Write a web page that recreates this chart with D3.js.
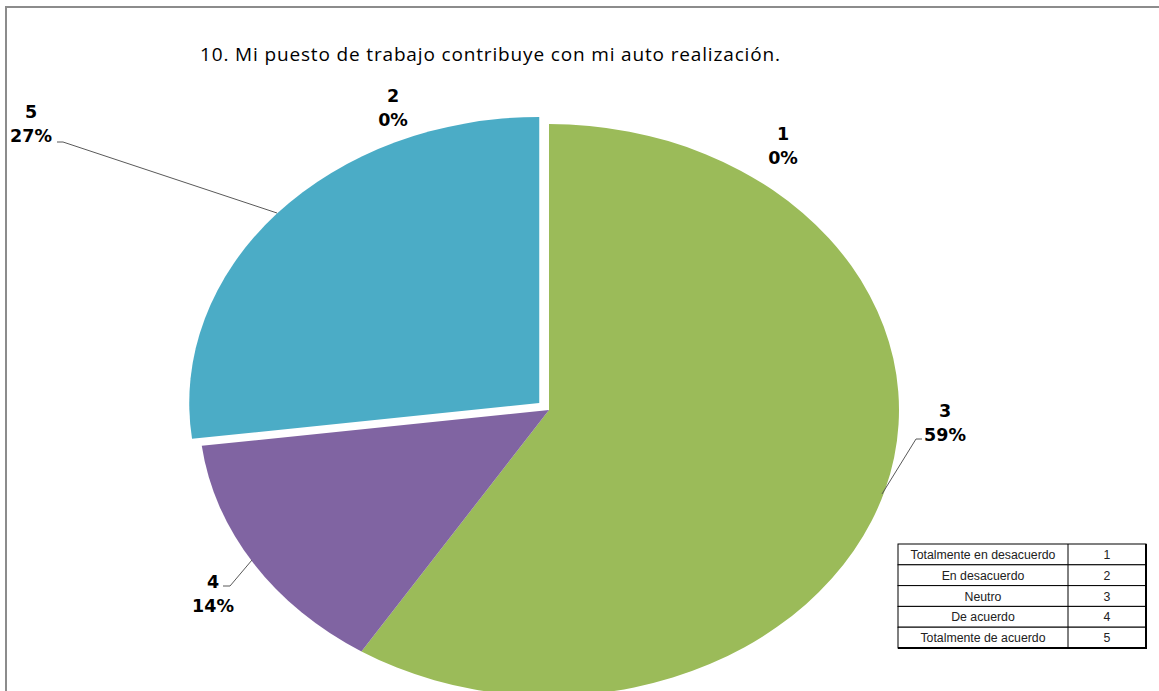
<!DOCTYPE html>
<html>
<head>
<meta charset="utf-8">
<script src="https://cdn.jsdelivr.net/npm/d3@7"></script>
<style>
  body { margin: 0; background: #fff; }
  svg { display: block; }
</style>
</head>
<body>
<div id="chart"></div>
<script>
// pie data
const categories = ['1', '2', '3', '4', '5'];
const values = [0, 0, 59, 14, 27];
const sliceColors = ['#4f81bd', '#c0504d', '#9bbb59', '#8064a2', '#4bacc6'];

// legend table
const tableLabels = ['Totalmente en desacuerdo', 'En desacuerdo', 'Neutro', 'De acuerdo', 'Totalmente de acuerdo'];
const tableCodes = ['1', '2', '3', '4', '5'];

// label positions (label anchor x, y of first line) and leader lines
const labelPos = [[783, 140], [393, 102], [945, 417], [213, 588], [31, 118]];
const leaderLines = [null, null,
  [[922, 439], [916, 439], [882, 494]],
  [[223, 586], [230, 586], [252, 560]],
  [[57, 142], [63, 142], [277, 213]]];

const width = 1159, height = 691;
const cx = 549, cy = 410, rx = 350, ry = 286;

const svg = d3.select('#chart').append('svg')
    .attr('width', width)
    .attr('height', height);

// outer frame
svg.append('path')
    .attr('d', `M6,${height} V7 H${width}`)
    .attr('fill', 'none')
    .attr('stroke', '#8c8c8c')
    .attr('stroke-width', 2);

// title
svg.append('text')
    .attr('x', 490)
    .attr('y', 61)
    .attr('text-anchor', 'middle')
    .attr('font-family', 'Open Sans, sans-serif')
    .attr('font-size', 19)
    .attr('textLength', 580)
    .attr('lengthAdjust', 'spacing')
    .attr('fill', '#000')
    .text('10. Mi puesto de trabajo contribuye con mi auto realización.');

const pie = d3.pie().sort(null).value(d => d);
const arcs = pie(values);
const arc = d3.arc().innerRadius(0).outerRadius(rx);

const pieG = svg.append('g')
    .attr('transform', `translate(${cx},${cy}) scale(1,${ry / rx})`);

pieG.selectAll('path')
    .data(arcs)
    .enter().append('path')
    .attr('d', arc)
    .attr('fill', (d, i) => sliceColors[i])
    .attr('transform', (d, i) => {
        if (i !== 4) return null;
        // exploded slice
        const a = (d.startAngle + d.endAngle) / 2;
        const off = 13;
        return `translate(${Math.sin(a) * off},${-Math.cos(a) * off})`;
    });

// leader lines
leaderLines.forEach(pts => {
    if (!pts) return;
    svg.append('path')
        .attr('d', d3.line()(pts))
        .attr('fill', 'none')
        .attr('stroke', '#595959')
        .attr('stroke-width', 1);
});

// data labels
categories.forEach((c, i) => {
    const t = svg.append('text')
        .attr('x', labelPos[i][0])
        .attr('y', labelPos[i][1])
        .attr('text-anchor', 'middle')
        .attr('font-family', 'DejaVu Sans, sans-serif')
        .attr('font-weight', 'bold')
        .attr('font-size', 17.5)
        .attr('fill', '#000');
    t.append('tspan').attr('x', labelPos[i][0]).text(c);
    t.append('tspan').attr('x', labelPos[i][0]).attr('dy', 24).text(values[i] + '%');
});

// reference table
const tx = 898, ty = 544, tw1 = 170, tw2 = 78, rowH = 20.8;
const table = svg.append('g');
tableLabels.forEach((lab, i) => {
    const y = ty + i * rowH;
    table.append('rect')
        .attr('x', tx).attr('y', y)
        .attr('width', tw1 + tw2).attr('height', rowH)
        .attr('fill', '#fff')
        .attr('stroke', '#000')
        .attr('stroke-width', 1);
    table.append('line')
        .attr('x1', tx + tw1).attr('x2', tx + tw1)
        .attr('y1', y).attr('y2', y + rowH)
        .attr('stroke', '#000');
    table.append('text')
        .attr('x', tx + tw1 / 2).attr('y', y + rowH / 2 + 4.5)
        .attr('text-anchor', 'middle')
        .attr('font-family', 'Liberation Sans, Arial, sans-serif')
        .attr('font-size', 12.3)
        .attr('fill', '#222')
        .text(lab);
    table.append('text')
        .attr('x', tx + tw1 + tw2 / 2).attr('y', y + rowH / 2 + 4.5)
        .attr('text-anchor', 'middle')
        .attr('font-family', 'Liberation Sans, Arial, sans-serif')
        .attr('font-size', 12.3)
        .attr('fill', '#222')
        .text(tableCodes[i]);
});
// heavier right/bottom edges
table.append('path')
    .attr('d', `M${tx + tw1 + tw2},${ty} V${ty + rowH * 5} H${tx}`)
    .attr('fill', 'none')
    .attr('stroke', '#000')
    .attr('stroke-width', 2);
</script>
</body>
</html>
